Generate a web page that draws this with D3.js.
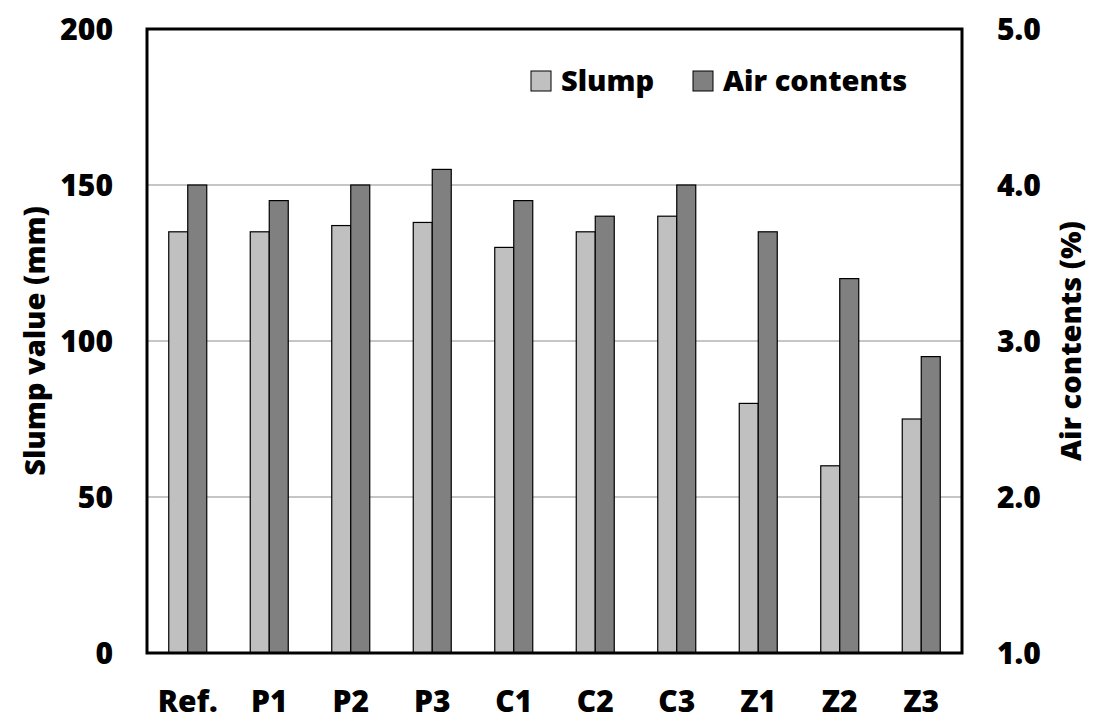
<!DOCTYPE html>
<html><head><meta charset="utf-8">
<script src="https://cdn.jsdelivr.net/npm/d3@7"></script>
<style>body{margin:0;background:#fff}svg{display:block}text{font-family:"Open Sans","Noto Sans",sans-serif;font-weight:800;fill:#000}</style>
</head><body><svg id="c" width="1105" height="725"></svg>
<script>
const categories = ["Ref.","P1","P2","P3","C1","C2","C3","Z1","Z2","Z3"];
const slump = [135,135,137,138,130,135,140,80,60,75];
const airContents = [4.0,3.9,4.0,4.1,3.9,3.8,4.0,3.7,3.4,2.9];
const leftTicks = [0,50,100,150,200];
const rightTicks = [1.0,2.0,3.0,4.0,5.0];
const seriesNames = ["Slump","Air contents"];
const colors = ["#c0c0c0","#808080"];

const svg = d3.select("#c");
const L=147,R=962,T=29,B=653;
const x = d3.scaleBand().domain(categories).range([L,R]);
const y = d3.scaleLinear().domain([0,200]).range([B,T]);
const y2 = d3.scaleLinear().domain([1,5]).range([B,T]);
const bw = 19;

// grid
svg.append("g").selectAll("line").data(leftTicks.filter(d=>d>0&&d<200)).join("line")
  .attr("x1",L).attr("x2",R).attr("y1",d=>y(d)).attr("y2",d=>y(d))
  .attr("stroke","#8c8c8c").attr("stroke-width",1);

// bars
const g = svg.append("g");
g.selectAll("rect.s").data(categories).join("rect")
  .attr("x",d=>x(d)+x.bandwidth()/2-bw).attr("width",bw)
  .attr("y",(d,i)=>y(slump[i])).attr("height",(d,i)=>B-y(slump[i]))
  .attr("fill",colors[0]).attr("stroke","#000").attr("stroke-width",1.2);
g.selectAll("rect.a").data(categories).join("rect")
  .attr("x",d=>x(d)+x.bandwidth()/2).attr("width",bw)
  .attr("y",(d,i)=>y2(airContents[i])).attr("height",(d,i)=>B-y2(airContents[i]))
  .attr("fill",colors[1]).attr("stroke","#000").attr("stroke-width",1.2);

// frame
svg.append("rect").attr("x",L).attr("y",T).attr("width",R-L).attr("height",B-T)
  .attr("fill","none").attr("stroke","#000").attr("stroke-width",3);

// axes
const ax = d3.axisLeft(y).tickValues(leftTicks).tickSize(0).tickPadding(34);
const gl = svg.append("g").attr("transform",`translate(${L},0)`).call(ax);
gl.select(".domain").remove();
gl.selectAll("text").style("font-size","30px").attr("dy","0.36em").style("font-family",null);
const ar = d3.axisRight(y2).tickValues(rightTicks).tickFormat(d3.format(".1f")).tickSize(0).tickPadding(35);
const gr = svg.append("g").attr("transform",`translate(${R},0)`).call(ar);
gr.select(".domain").remove();
gr.selectAll("text").style("font-size","30px").attr("dy","0.36em").style("font-family",null);
const ab = d3.axisBottom(x).tickSize(0).tickPadding(0);
const gb = svg.append("g").attr("transform",`translate(0,${B})`).call(ab);
gb.select(".domain").remove();
gb.selectAll("text").style("font-size","30px").attr("y",59).attr("dy",0).style("font-family",null);

// axis titles
svg.append("text").attr("transform","translate(45,341) rotate(-90)").attr("text-anchor","middle")
  .style("font-size","29px").text("Slump value (mm)");
svg.append("text").attr("transform","translate(1081,341) rotate(-90)").attr("text-anchor","middle")
  .style("font-size","29px").text("Air contents (%)");

// legend
const legX=[531,693];
seriesNames.forEach((n,i)=>{
  svg.append("rect").attr("x",legX[i]).attr("y",71).attr("width",20).attr("height",20)
    .attr("fill",colors[i]).attr("stroke","#000").attr("stroke-width",1);
  svg.append("text").attr("x",legX[i]+30).attr("y",91).style("font-size","29px").text(n);
});
</script></body></html>
